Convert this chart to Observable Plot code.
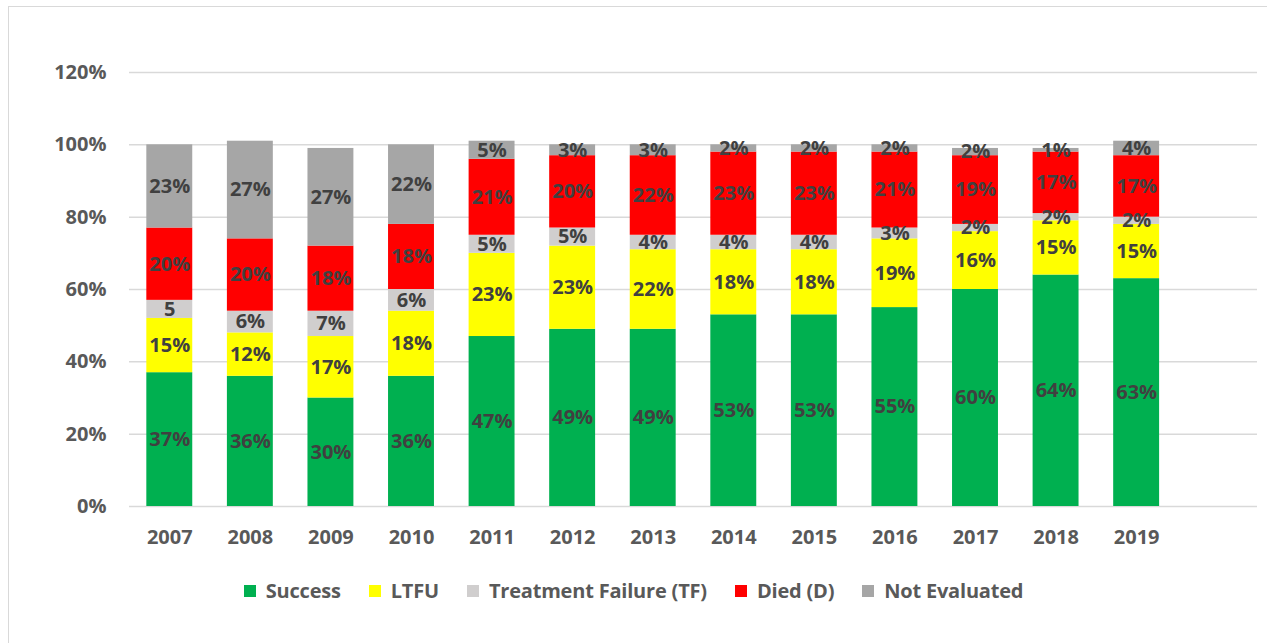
<!DOCTYPE html>
<html>
<head>
<meta charset="utf-8">
<script src="https://cdn.jsdelivr.net/npm/d3@7"></script>
<script src="https://cdn.jsdelivr.net/npm/@observablehq/plot@0.6"></script>
<style>
  body { margin: 0; background: #ffffff; }
  #wrap { position: relative; width: 1267px; height: 643px; overflow: hidden; font-family: "Open Sans", sans-serif; background: #fff; }
  #frame { position: absolute; left: 8px; top: 6px; width: 1400px; height: 800px; border-top: 1.5px solid #d9d9d9; border-left: 1.5px solid #d9d9d9; }
  #chart { position: absolute; left: 0; top: 0; }
  #legend { position: absolute; left: 0; top: 577px; width: 1267px; display: flex; justify-content: center; align-items: center; padding-left: 0px; box-sizing: border-box; }
  .item { display: flex; align-items: center; margin: 0 14px; font-size: 20px; font-weight: bold; color: #595959; line-height: 28px; letter-spacing: -0.2px; }
  .sw { width: 12px; height: 12px; margin-right: 10px; }
</style>
</head>
<body>
<div id="wrap">
  <div id="frame"></div>
  <div id="chart"></div>
  <div id="legend"></div>
</div>
<script>
const years = ["2007","2008","2009","2010","2011","2012","2013","2014","2015","2016","2017","2018","2019"];
const statuses = ["Success", "LTFU", "Treatment Failure (TF)", "Died (D)", "Not Evaluated"];
const colors = ["#00B050", "#FFFF00", "#D0CECE", "#FF0000", "#A6A6A6"];

const success  = [37, 36, 30, 36, 47, 49, 49, 53, 53, 55, 60, 64, 63];
const ltfu     = [15, 12, 17, 18, 23, 23, 22, 18, 18, 19, 16, 15, 15];
const tf       = [ 5,  6,  7,  6,  5,  5,  4,  4,  4,  3,  2,  2,  2];
const died     = [20, 20, 18, 18, 21, 20, 22, 23, 23, 21, 19, 17, 17];
const notEval  = [23, 27, 27, 22,  5,  3,  3,  2,  2,  2,  2,  1,  4];

// label text as printed in the chart (2007 TF label shows without %)
const labelOverrides = { "2007|Treatment Failure (TF)": "5" };

const yTicks = [0, 20, 40, 60, 80, 100, 120];

const series = [success, ltfu, tf, died, notEval];
const rows = [];
years.forEach((yr, i) => {
  statuses.forEach((s, k) => {
    const v = series[k][i];
    const key = yr + "|" + s;
    rows.push({ year: yr, status: s, value: v, label: labelOverrides[key] ?? (v + "%") });
  });
});

const chart = Plot.plot({
  width: 1267,
  height: 570,
  marginLeft: 129,
  marginRight: 10,
  marginTop: 72,
  marginBottom: 64,
  style: { fontFamily: "'Open Sans', sans-serif", fontSize: "20px", fontWeight: "bold", color: "#595959", background: "transparent" },
  x: { domain: [...years, ""], paddingInner: 0.43, paddingOuter: 0.215, round: false, label: null, tickSize: 0, tickPadding: 23 },
  y: { domain: [0, 120], ticks: yTicks, tickFormat: d => d + "%", label: null, tickSize: 0, tickPadding: 23 },
  color: { domain: statuses, range: colors },
  marks: [
    Plot.ruleY(yTicks, { stroke: "#d9d9d9", strokeWidth: 1.5 }),
    Plot.barY(rows, { x: "year", y: "value", fill: "status" }),
    Plot.text(rows, Plot.stackY({ x: "year", y: "value", z: "status", text: "label", fill: "#404040", fontSize: 20, fontWeight: "bold" }))
  ]
});
document.getElementById("chart").appendChild(chart);

const legend = document.getElementById("legend");
statuses.forEach((s, k) => {
  const it = document.createElement("div");
  it.className = "item";
  const sw = document.createElement("div");
  sw.className = "sw";
  sw.style.background = colors[k];
  const t = document.createElement("span");
  t.textContent = s;
  it.appendChild(sw);
  it.appendChild(t);
  legend.appendChild(it);
});
</script>
</body>
</html>
